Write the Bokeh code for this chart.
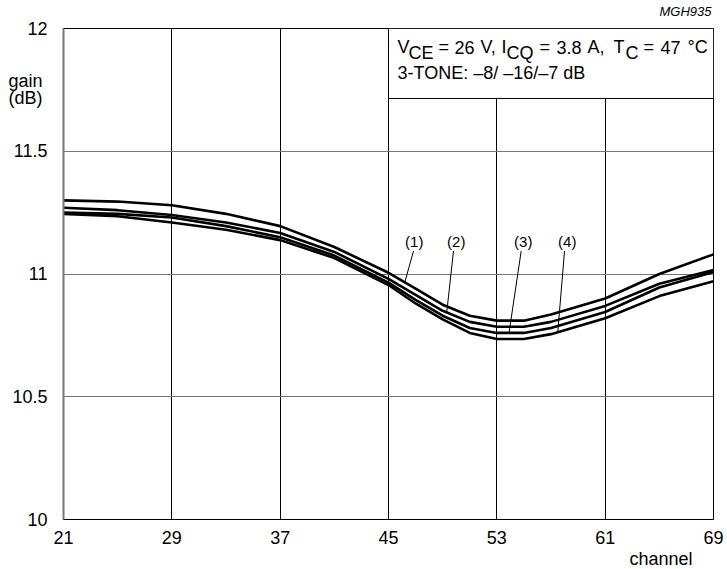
from bokeh.plotting import figure
from bokeh.models import Range1d, FixedTicker, Label, Title, LinearAxis
from bokeh.embed import file_html
from bokeh.resources import INLINE
import numpy as np

# ---- data ----
channel = [21, 25, 29, 33, 37, 41, 45, 47, 49, 51, 53, 55, 57, 61, 65, 69]
gain_1 = [11.30, 11.295, 11.28, 11.245, 11.195, 11.11, 11.005, 10.94, 10.875, 10.83, 10.81, 10.81, 10.835, 10.90, 11.00, 11.08]
gain_2 = [11.27, 11.26, 11.24, 11.21, 11.167, 11.09, 10.98, 10.915, 10.85, 10.805, 10.785, 10.785, 10.805, 10.87, 10.96, 11.016]
gain_3 = [11.25, 11.245, 11.23, 11.195, 11.15, 11.075, 10.965, 10.895, 10.83, 10.78, 10.76, 10.76, 10.78, 10.845, 10.945, 11.008]
gain_4 = [11.245, 11.235, 11.21, 11.18, 11.138, 11.065, 10.955, 10.88, 10.815, 10.76, 10.735, 10.735, 10.755, 10.82, 10.91, 10.97]
series = [gain_1, gain_2, gain_3, gain_4]
curve_labels = ["(1)", "(2)", "(3)", "(4)"]
label_x = [46.9, 50.0, 54.95, 58.2]      # label positions (channel)
leader_start_x = [46.85, 49.8, 54.8, 58.0]
leader_end_x = [46.2, 49.3, 53.9, 57.5]
x_ticks = [21, 29, 37, 45, 53, 61, 69]
y_ticks = [10, 10.5, 11, 11.5, 12]
y_tick_labels = {10: "10", 10.5: "10.5", 11: "11", 11.5: "11.5", 12: "12"}
y_title_pos = [11.785, 11.715]
y_title_lines = ["gain\u00a0", "(dB)\u00a0"]
code_pos = 66.93
code_text = "MGH935"

FONT = "Liberation Sans"

p = figure(width=727, height=569, output_backend="svg", toolbar_location=None, title=None,
           x_range=Range1d(21, 69), y_range=Range1d(10, 12),
           min_border_left=63, min_border_right=14, min_border_top=27, min_border_bottom=50)
p.background_fill_color = "white"
p.border_fill_color = "white"
p.outline_line_color = "black"
p.outline_line_width = 1

bottom_axis = p.below[0]
left_axis = p.left[0]

# figure code in the top border, as a tick label of an extra top axis
top_axis = LinearAxis(ticker=FixedTicker(ticks=[code_pos]),
                      major_label_overrides={code_pos: code_text},
                      axis_line_color=None, major_tick_line_color=None,
                      minor_tick_line_color=None, major_tick_in=0, major_tick_out=0,
                      minor_tick_in=0, minor_tick_out=0, major_label_standoff=10,
                      major_label_text_font=FONT, major_label_text_font_size="13px",
                      major_label_text_font_style="italic", major_label_text_color="black")
p.add_layout(top_axis, "above")

bottom_axis.ticker = FixedTicker(ticks=x_ticks)
left_axis.ticker = FixedTicker(ticks=y_ticks + y_title_pos)
overrides = dict(y_tick_labels)
for pos, txt in zip(y_title_pos, y_title_lines):
    overrides[pos] = txt
left_axis.major_label_overrides = overrides
p.ygrid.ticker = FixedTicker(ticks=y_ticks)
p.xgrid.ticker = FixedTicker(ticks=x_ticks)
for ax in (bottom_axis, left_axis):
    ax.major_tick_line_color = None
    ax.minor_tick_line_color = None
    ax.major_label_text_font = FONT
    ax.major_label_text_font_size = "18px"
    ax.major_label_text_color = "black"
bottom_axis.axis_line_color = "black"
left_axis.axis_line_color = "#777777"
left_axis.axis_line_width = 2
bottom_axis.major_label_standoff = 5
left_axis.major_label_standoff = 10

p.add_layout(Title(text="channel", align="right", offset=21, standoff=1,
                   text_font=FONT, text_font_size="18px", text_font_style="normal",
                   text_color="black"), "below")

p.xgrid.grid_line_color = "black"
p.xgrid.grid_line_width = 1
p.ygrid.grid_line_color = "#777777"
p.ygrid.grid_line_width = 1

for g in series:
    p.line(channel, g, line_color="black", line_width=2.6)

# curve labels with leader lines
label_y = 11.134
leader_top = 11.094
for i, g in enumerate(series):
    p.add_layout(Label(x=label_x[i], y=label_y, text=curve_labels[i], text_align="center",
                       text_baseline="middle", text_font=FONT, text_font_size="15px",
                       text_color="black"))
    yend = float(np.interp(leader_end_x[i], channel, g))
    p.segment(x0=[leader_start_x[i]], y0=[leader_top], x1=[leader_end_x[i]], y1=[yend],
              line_color="black", line_width=1)

# condition box
p.quad(left=[45], right=[69], top=[12], bottom=[11.715], fill_color="white",
       line_color="black", line_width=1)

base1 = 11.923
sub1 = 11.902
base2 = 11.817
pieces = [("V", 9, base1), ("CE", 20, sub1), ("=", 50, base1), ("26", 66, base1),
          ("V,", 92, base1), ("I", 113, base1), ("CQ", 118, sub1), ("=", 151, base1),
          ("3.8", 168, base1), ("A,", 199, base1), ("T", 225, base1), ("C", 237, sub1),
          ("=", 255, base1), ("47", 272, base1), ("\u00b0C", 299, base1),
          ("3-TONE: \u20138/ \u201316/\u20137 dB", 9, base2)]
for txt, off, yb in pieces:
    p.add_layout(Label(x=45, y=yb, x_offset=off, text=txt, text_align="left",
                       text_baseline="alphabetic", text_font=FONT, text_font_size="18px",
                       text_color="black"))

open("out.html", "w").write(file_html(p, INLINE))
